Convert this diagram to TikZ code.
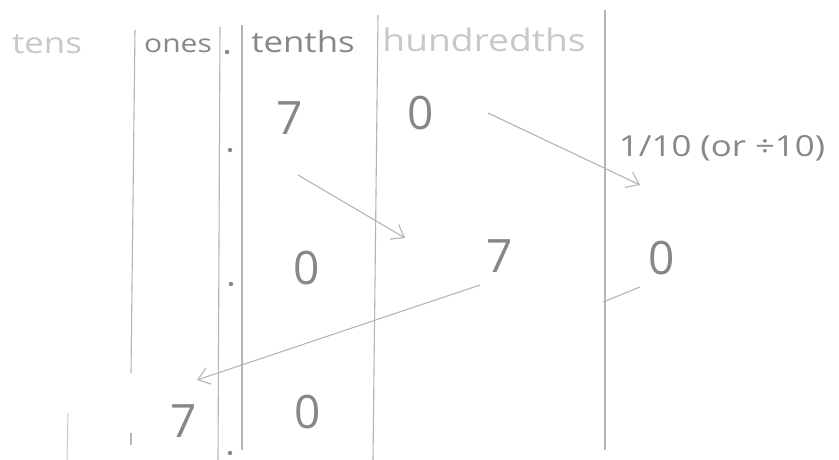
\documentclass[tikz,border=0pt]{standalone}
\usepackage{fontspec}
\setmainfont{Open Sans}
\newfontfamily\hand[FakeStretch=1.2]{Open Sans}
\usetikzlibrary{arrows.meta, positioning}
\definecolor{pencil}{RGB}{135,135,135}
\definecolor{faint}{RGB}{180,180,180}
\definecolor{ghost}{RGB}{200,200,200}

\begin{document}
\begin{tikzpicture}[x=1pt, y=-1pt,
      rule/.style={draw=faint, line width=1.1pt},
      head/.style={text=pencil, font=\hand\fontsize{29}{29}\selectfont, inner sep=0pt},
      digit/.style={text=pencil, font=\fontsize{46}{46}\selectfont, inner sep=0pt},
      note/.style={text=pencil, font=\hand\fontsize{29}{29}\selectfont, inner sep=0pt},
      arr/.style={-{Straight Barb[length=4mm, width=6mm]}, draw=faint, line width=1.1pt},
      pt/.style={circle, fill=pencil, inner sep=0pt, minimum size=4.5pt},
    ]
    \useasboundingbox (0,0) rectangle (839,460);
    % column rules
    \draw[rule] (135,30) -- (131,373);
    \draw[rule] (131,433) -- (131,445);
    \draw[draw=ghost, line width=1pt] (68,413) -- (67,460);
    \draw[rule] (220,27) -- (218,460);
    \draw[rule] (242,25) -- (242,450);
    \draw[rule] (378,15) -- (373,460);
    \draw[rule] (605,10) -- (605,450);
    % headings
    \node[head, text=ghost] (tens) at (47,44) {tens};
    \node[head, font=\hand\fontsize{25}{25}\selectfont] (ones) at (178,46) {ones};
    \node[head] (tenths) at (303,42) {tenths};
    \node[head, text=ghost, font=\hand\fontsize{31}{31}\selectfont] (hundredths) at (484,40) {hundredths};
    % decimal points
    \node[pt] (p0) at (227,52) {};
    \node[pt] (p1) at (230,150) {};
    \node[pt] (p2) at (231,284) {};
    \node[pt] (p3) at (230,453) {};
    % digits
    \node[digit] (a7) at (290,118) {7};
    \node[digit] (a0) at (421,113) {0};
    \node[digit] (b0) at (307,268) {0};
    \node[digit] (b7) at (500,256) {7};
    \node[digit] (c0) at (662,258) {0};
    \node[digit] (d7) at (184,421) {7};
    \node[digit] (e0) at (308,412) {0};
    \node[note] (rule10) at (722,148) {1/10 (or ÷10)};
    % arrows
    \coordinate (s1) at (298,175);
    \coordinate (t1) at (405,238);
    \coordinate (s2) at (488,113);
    \coordinate (t2) at (640,185);
    \coordinate (s3) at (480,285);
    \coordinate (t3) at (197,380);
    \coordinate (s4) at (640,287);
    \coordinate (t4) at (603,302);
    \draw[arr] (s1) -- (t1);
    \draw[arr] (s2) -- (t2);
    \draw[arr] (s3) -- (t3);
    \draw[rule] (s4) -- (t4);
  \end{tikzpicture}
\end{document}
